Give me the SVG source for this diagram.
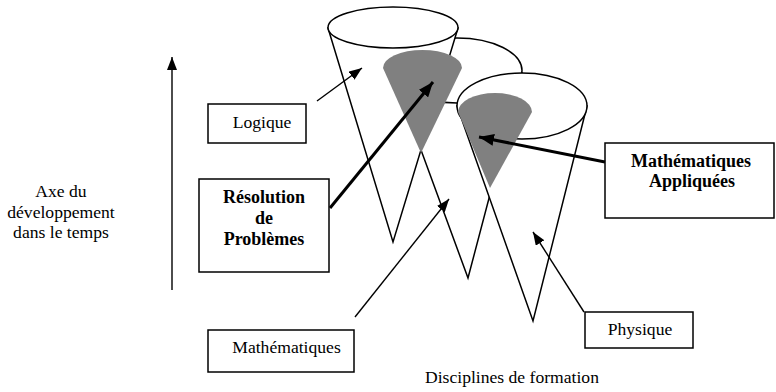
<svg xmlns="http://www.w3.org/2000/svg" width="776" height="392" viewBox="0 0 776 392">
<defs>
<style>
.cone{fill:#fff;stroke:#000;stroke-width:1.5;stroke-linejoin:miter}
.gray{fill:#808080;stroke:none}
.box{fill:#fff;stroke:#000;stroke-width:1.5}
text{font-family:'Liberation Serif',serif;font-size:17.6px;fill:#000;text-anchor:middle;font-weight:normal}
text.b{font-weight:bold;font-size:18px}
.thin{stroke:#000;stroke-width:1.4;fill:none;marker-end:url(#ah)}
.thick{stroke:#000;stroke-width:3;fill:none;marker-end:url(#ahb)}
</style>
<marker id="ah" markerUnits="userSpaceOnUse" markerWidth="14" markerHeight="10" refX="13" refY="5" orient="auto">
<path d="M0,0 L13,5 L0,10 Z" fill="#000"/>
</marker>
<marker id="ahb" markerUnits="userSpaceOnUse" markerWidth="16" markerHeight="12" refX="15" refY="6" orient="auto">
<path d="M0,0 L15,6 L0,12 Z" fill="#000"/>
</marker>
</defs>
<rect width="776" height="392" fill="#fff"/>

<g id="cone2">
<path class="cone" d="M392,71 L468,278 L522,73 Z"/>
<ellipse class="cone" cx="457" cy="70.5" rx="65" ry="32.5"/>
</g>
<g id="cone1">
<path class="cone" d="M328,28 L393,242 L458,28 Z"/>
<ellipse class="cone" cx="393" cy="27.5" rx="65" ry="20.5"/>
<path class="gray" d="M383,68 A39.5,18 0 0 1 462,68 L421,153 Z"/>
</g>
<g id="cone3">
<path class="cone" d="M457,106 L533,321 L587,106 Z"/>
<ellipse class="cone" cx="522" cy="106" rx="65" ry="33"/>
<path class="gray" d="M458,112 A37,19 0 0 1 532,112 L490,188 Z"/>
</g>

<g id="axis">
<line class="thin" x1="172" y1="290" x2="172" y2="57"/>
<text x="61" y="197" font-family="Liberation Serif">Axe du</text>
<text x="61" y="217.5" font-family="Liberation Serif">développement</text>
<text x="61" y="238" font-family="Liberation Serif">dans le temps</text>
</g>

<g id="logique">
<rect class="box" x="208" y="104" width="98" height="39"/>
<text x="262" y="128" font-family="Liberation Serif">Logique</text>
</g>
<g id="resolution">
<rect class="box" x="199" y="179" width="130" height="93"/>
<text class="b" x="264" y="203">Résolution</text>
<text class="b" x="264" y="224">de</text>
<text class="b" x="264" y="245">Problèmes</text>
</g>
<g id="mathematiques">
<rect class="box" x="208" y="330" width="146" height="42"/>
<text x="286.5" y="353" font-family="Liberation Serif">Mathématiques</text>
</g>
<g id="physique">
<rect class="box" x="585" y="312" width="108" height="36"/>
<text x="640" y="335" font-family="Liberation Serif">Physique</text>
</g>
<g id="mathappl">
<rect class="box" x="605" y="143" width="169" height="75"/>
<text class="b" x="691" y="167">Mathématiques</text>
<text class="b" x="692" y="187">Appliquées</text>
</g>
<g id="disciplines">
<text x="512" y="383" font-family="Liberation Serif">Disciplines de formation</text>
</g>

<g id="connectors">
<line class="thin" x1="317" y1="101" x2="362" y2="68"/>
<line class="thick" x1="330" y1="208" x2="433" y2="82"/>
<line class="thick" x1="605" y1="162" x2="479" y2="137"/>
<line class="thin" x1="355" y1="317" x2="449" y2="199"/>
<line class="thin" x1="584" y1="312" x2="533" y2="232"/>
</g>
</svg>
